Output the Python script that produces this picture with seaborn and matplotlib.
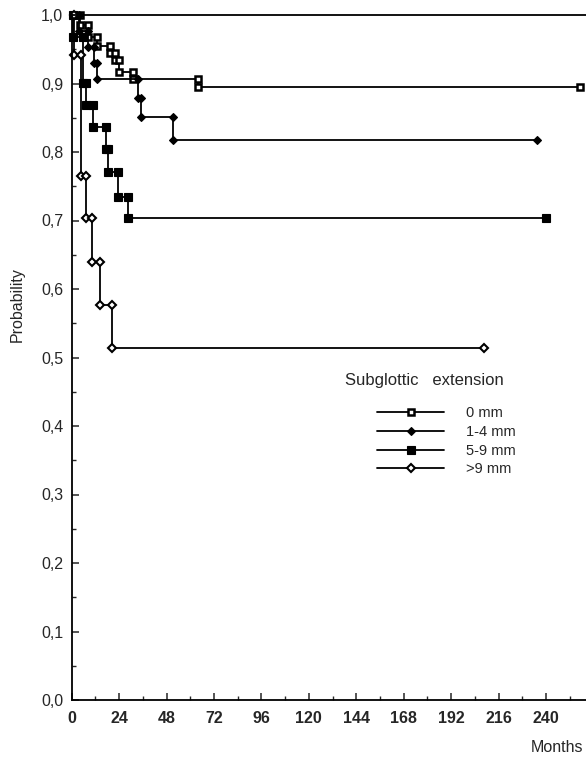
import matplotlib
matplotlib.use("Agg")
import matplotlib.pyplot as plt
import seaborn as sns
import pandas as pd
from matplotlib.lines import Line2D
from matplotlib.ticker import MultipleLocator

# ---- data ----
groups = ["0 mm", "1-4 mm", "5-9 mm", ">9 mm"]

times_0mm = [4, 8.5, 13, 19.5, 22, 24, 31, 64]
surv_0mm = [0.985, 0.968, 0.955, 0.945, 0.934, 0.917, 0.907, 0.895]
end_0mm = 257

times_1_4mm = [3.5, 8.5, 11.5, 13, 33.5, 35, 51.5]
surv_1_4mm = [0.976, 0.953, 0.930, 0.907, 0.879, 0.851, 0.818]
end_1_4mm = 235.5

times_5_9mm = [0.5, 5.5, 7, 11, 17.5, 18.5, 23.5, 28.5]
surv_5_9mm = [0.968, 0.901, 0.869, 0.836, 0.804, 0.771, 0.734, 0.704]
end_5_9mm = 240

times_gt9mm = [1, 4.5, 7, 10.5, 14.5, 20.5]
surv_gt9mm = [0.941, 0.765, 0.704, 0.639, 0.577, 0.514]
end_gt9mm = 208.5

xtick_values = [0, 24, 48, 72, 96, 120, 144, 168, 192, 216, 240]
ytick_values = [0.0, 0.1, 0.2, 0.3, 0.4, 0.5, 0.6, 0.7, 0.8, 0.9, 1.0]
ytick_labels = ["0,0", "0,1", "0,2", "0,3", "0,4", "0,5", "0,6", "0,7", "0,8", "0,9", "1,0"]

series = {
    "0 mm": (times_0mm, surv_0mm, end_0mm),
    "1-4 mm": (times_1_4mm, surv_1_4mm, end_1_4mm),
    "5-9 mm": (times_5_9mm, surv_5_9mm, end_5_9mm),
    ">9 mm": (times_gt9mm, surv_gt9mm, end_gt9mm),
}

styles = {
    "0 mm": dict(marker="s", markersize=4.6, markerfacecolor="white", markeredgecolor="black", markeredgewidth=1.8),
    "1-4 mm": dict(marker="D", markersize=4.0, markerfacecolor="black", markeredgecolor="black", markeredgewidth=0.8),
    "5-9 mm": dict(marker="s", markersize=5.2, markerfacecolor="black", markeredgecolor="black", markeredgewidth=0.8),
    ">9 mm": dict(marker="D", markersize=3.6, markerfacecolor="white", markeredgecolor="black", markeredgewidth=1.5),
}


def step_corners(times, surv, end):
    xs, ys = [0.0], [1.0]
    prev = 1.0
    for t, s in zip(times, surv):
        xs += [t, t]
        ys += [prev, s]
        prev = s
    xs.append(end)
    ys.append(prev)
    return xs, ys


sns.set_style("ticks")
plt.rcParams["font.family"] = ["Liberation Sans", "DejaVu Sans"]

fig = plt.figure(figsize=(5.86, 7.57), dpi=100)
ax = fig.add_axes([71.7 / 586, 57 / 757, (586 - 71.7) / 586, 685 / 757])

for g in groups:
    xs, ys = step_corners(*series[g])
    df = pd.DataFrame({"Months": xs, "Probability": ys})
    sns.lineplot(data=df, x="Months", y="Probability", estimator=None, sort=False,
                 color="black", linewidth=1.3, markevery=list(range(1, len(xs))),
                 ax=ax, legend=False, **styles[g])

for ln in ax.lines:
    ln.set_clip_on(False)

ax.set_xlim(0, 514.3 / 1.976)
ax.set_ylim(0, 1.0)

ax.set_xticks(xtick_values)
ax.set_xticklabels([str(v) for v in xtick_values], family=["Liberation Sans Narrow", "Liberation Sans"],
                   fontweight="bold", fontsize=11.5)
ax.xaxis.set_minor_locator(MultipleLocator(12))
ax.set_yticks(ytick_values)
ax.set_yticklabels(ytick_labels, fontsize=11.5)
ax.yaxis.set_minor_locator(MultipleLocator(0.05))

ax.tick_params(axis="x", which="major", direction="in", length=5, width=1.1, pad=8)
ax.tick_params(axis="x", which="minor", direction="in", length=3, width=1.0)
ax.tick_params(axis="y", which="major", direction="in", length=5, width=1.1, pad=6)
ax.tick_params(axis="y", which="minor", direction="in", length=3, width=1.0)

for side in ["left", "bottom", "top"]:
    ax.spines[side].set_visible(True)
    ax.spines[side].set_linewidth(1.3)
    ax.spines[side].set_color("black")
ax.spines["right"].set_visible(False)

ax.set_xlabel("")
ax.set_ylabel("Probability", fontsize=11.5)
ax.yaxis.set_label_coords(-0.092, 0.577)
ax.text(0.944, -0.069, "Months", transform=ax.transAxes, ha="center", va="center", fontsize=11.5)

# legend
ax.text((345 - 71.7) / 514.3, (700 - 381) / 685, "Subglottic   extension", transform=ax.transAxes,
        ha="left", va="center", fontsize=12)
handles = [Line2D([0], [0], color="black", linewidth=1.3, **styles[g]) for g in groups]
leg = ax.legend(handles, groups, loc="upper left",
                bbox_to_anchor=((377 - 71.7) / 514.3, (700 - 406) / 685),
                frameon=False, fontsize=10.5, handlelength=4.6, handletextpad=1.5,
                labelspacing=0.33, borderpad=0, borderaxespad=0)

fig.savefig("out.png", dpi=100)
